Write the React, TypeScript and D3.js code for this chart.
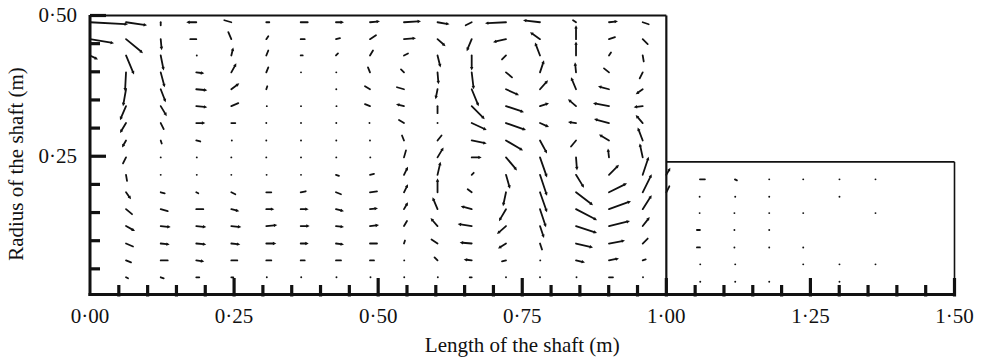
import React from 'react';
import * as d3 from 'd3';

// ---------- axes ----------
const xMajorTicks = [0, 0.25, 0.5, 0.75, 1.0, 1.25, 1.5];
const xMajorLabels = ['0·00', '0·25', '0·50', '0·75', '1·00', '1·25', '1·50'];
const yMajorTicks = [0.25, 0.5];
const yMajorLabels = ['0·25', '0·50'];
const xMinorTicks = [0.05, 0.1, 0.15, 0.2, 0.25, 0.3, 0.35, 0.4, 0.45, 0.5, 0.55, 0.6, 0.65, 0.7, 0.75, 0.8, 0.85, 0.9, 0.95, 1.0, 1.05, 1.1, 1.15, 1.2, 1.25, 1.3, 1.35, 1.4, 1.45, 1.5];
const yMinorTicks = [0.05, 0.1, 0.15, 0.2, 0.25, 0.3, 0.35, 0.4, 0.45, 0.5];
const xTitle = 'Length of the shaft (m)';
const yTitle = 'Radius of the shaft (m)';

// ---------- geometry of the shaft ----------
const shaftLength = 1.5;
const stepPosition = 1.0;
const innerRadius = 0.5;
const outerRadius = 0.24;

// ---------- left part grid (x = axial position, r = radius) ----------
const leftColumns = [0.0, 0.0625, 0.1227, 0.1844, 0.2452, 0.3059, 0.3656, 0.4268, 0.4858, 0.5448, 0.603, 0.6623, 0.7218, 0.7808, 0.8433, 0.9005, 0.959, 1.0];
const leftRows = [0.488, 0.458, 0.429, 0.399, 0.369, 0.339, 0.309, 0.278, 0.248, 0.217, 0.186, 0.156, 0.126, 0.095, 0.065, 0.035];

// axial (u) and radial (v) velocity components, one array per column, top row first
const uLeft = [
  [38, 24, 8, 0, 0, 0, 0, 0, 0, 0, 0, 0, 0, 0, 0, 0],
  [21, 17, 8, -1, -3, -6, -6, -4, -3, 1, 5, 6, 9, 7, 5, 2],
  [0, 1, 3, 4, 5, 6, 3, 1, 0, 0, 4, 7, 10, 9, 7, 3],
  [-10, -6, 1, 8, 11, 11, 9, 4, 1, 1, 2, 7, 10, 10, 8, 3],
  [-7, -3, 2, 5, 8, 7, 4, 1, 0, 0, 4, 8, 10, 9, 6, 2],
  [3, 2, 2, 2, 1, 1, 0, 0, 0, 0.6, 5, 8, 11, 10, 5, 1],
  [7, 4, 2, 0.6, 0, 0.6, 0.6, 0.6, 0.6, 0.6, 5, 8, 9, 8, 4, 1],
  [8, 4, 2, 0.6, 0.6, 1, 0.6, 0.6, 0.6, 3, 5, 8, 8, 8, 5, 1],
  [10, 6, 3, -2, -5, -5, -1, 0, 0.6, 4, 7, 8, 9, 7, 4, 1],
  [17, 12, 4, -3, -7, -8, -5, -2, 2, 4, 4, 4, 3, 1, 0.5, 0.5],
  [12, 8, 3, 1, -2, 0, 0, 4, 6, 3, 0, -5, -7, -6, -3, 0.6],
  [-6, -5, 0, 2, 7, 13, 15, 15, 10, 2, -4, -11, -14, -12, -8, -2],
  [-21, -13, -4, 6, 13, 18, 20, 17, 11, 4, -3, -7, -9, -8, -4, 0],
  [-17, -10, -5, 4, 8, 9, 9, 7, 7, 7, 7, 6, 4, 2, 0.5, 0],
  [-3, 0, 0, -1, -5, -8, -8, -5, 1, 8, 17, 21, 21, 17, 9, 1],
  [9, 6, 2, -5, -11, -16, -15, -10, -1, 10, 18, 22, 21, 16, 10, 4],
  [6, 5, 1, -3, -7, -9, -7, -5, -3, 6, 9, 9, 7, 5, 3, 0.6],
  [0, 0, 0, 0, 0, 0, 0, 0, 0, 4, 3, 0, 0, 0, 0, 0],
];
const vLeft = [
  [-2, -4, -4, 0, 0, 0, 0, 0, 0, 0, 0, 0, 0, 0, 0, 0],
  [-3, -14, -19, -19, -17, -14, -10, -7, -6, -6, -7, -5, -5, -3, -2, -1],
  [-3, -11, -15, -15, -13, -10, -6, -3, -1, -1, -1, -2, -1, -1, 0, -1],
  [0, 0, 0, -1, -1, -1, 0, -1, 0, 0, -1, 0, -1, -1, -1, 0],
  [2, 7, 8, 9, 6, 3, 0, 0, 1, -1, -2, -2, -1, -1, 0, 0],
  [0, 3, 5, 5, 3, 1, 0.6, 0.6, 0.6, 0, 0, 0, 1, 0, 0, 0],
  [0, 0, 0, 0, 0, 0, 0, 0, 0, 0, 1, 0, 0, 0, 0, 0],
  [0, 1, 2, 0, 0, -0.5, 0, 0, 0, -1, -2, -2, -1, -1, 0, 0],
  [1, 4, 5, 5, 3, 2, 0.5, 0.6, 0, 1, 1, 1, 1, 0, 0, 0],
  [1, 1, 2, 3, 2, 2, 3, 5, 7, 8, 8, 7, 5, 3, 0.5, 0],
  [-2, -7, -12, -12, -10, -7, -1, 5, 10, 13, 14, 12, 8, 4, 3, 0],
  [-3, -12, -15, -17, -17, -13, -7, -3, 0, 2, 3, 3, 2, 1, 1, 0],
  [-1, -3, -4, -5, -6, -6, -7, -10, -13, -14, -14, -12, -8, -5, -1, -0.6],
  [2, 7, 13, 12, 9, 3, -4, -13, -20, -21, -20, -18, -12, -6, -1, -0.6],
  [2, 14, 14, 10, 12, 7, 1, -6, -13, -13, -13, -11, -7, -4, -2, 0],
  [1, 2, 3, 4, 3, 3, 4, 6, 9, 10, 9, 8, 5, 3, 2, 0],
  [-2, -5, -6, -6, -5, -1, 8, 13, 14, 18, 18, 14, 9, 5, 1, 0],
  [0, 0, 0, 0, 0, 0, 0, 0, 0, 7, 6, 0, 0, 0, 0, 0],
];

// ---------- right part grid ----------
const rightColumns = [1.0583, 1.119, 1.178, 1.237, 1.2999, 1.3624];
const rightRows = [0.209, 0.178, 0.149, 0.119, 0.088, 0.058, 0.027];
const uRight = [
  [5, -0.6, -0.6, -3, -3, 0.6, 0.6],
  [2, 0.6, -1, -1, -1, 0.6, 0.6],
  [0.6, 0.6, 0.6, 0.6, 0.6, 0, 0.6],
  [0.6, 0, 0.6, 0, 0.6, 0.6, 0],
  [0.6, 0.6, 0, 0, 0, 0.6, 0.6],
  [0.6, 0, 0.6, 0, 0, 0.6, 0],
];
const vRight = [
  [0, 0, 0, 0, 0, 0, 0],
  [-1, 0, -1, -1, -1, 0, 0],
  [0, 0, 0, 0, 0, 0, 0],
  [0, 0, 0, 0, 0, 0, 0],
  [0, 0, 0, 0, 0, 0, 0],
  [0, 0, 0, 0, 0, 0, 0],
];

const W = 981;
const H = 361;
const INK = '#111';
const FONT = '"Liberation Serif", "Times New Roman", serif';
const VEC_SCALE = 1; // px per velocity unit

type Vec = { x: number; r: number; u: number; v: number };

function buildVectors(): Vec[] {
  const out: Vec[] = [];
  leftColumns.forEach((x, c) => {
    leftRows.forEach((r, k) => {
      out.push({ x, r, u: uLeft[c][k], v: vLeft[c][k] });
    });
  });
  rightColumns.forEach((x, c) => {
    rightRows.forEach((r, k) => {
      out.push({ x, r, u: uRight[c][k], v: vRight[c][k] });
    });
  });
  return out;
}

export default function App() {
  const xScale = d3.scaleLinear().domain([0, shaftLength]).range([90, 954.5]);
  const yScale = d3.scaleLinear().domain([0, innerRadius]).range([297, 15.5]);
  const axisY = yScale(0) - 2.5;
  const x0 = xScale(0);
  const xStep = xScale(stepPosition);
  const xEnd = xScale(shaftLength);
  const yTop = yScale(innerRadius);
  const yOuter = yScale(outerRadius);

  const vectors = buildVectors();
  const marks: JSX.Element[] = [];
  vectors.forEach((d, i) => {
    const len = Math.hypot(d.u, d.v) * VEC_SCALE;
    if (len === 0) return;
    const tx = xScale(d.x);
    const ty = yScale(d.r);
    if (len < 1.5) {
      marks.push(<circle key={i} cx={tx + d.u * VEC_SCALE * 0.5} cy={ty} r={0.95} fill={INK} />);
      return;
    }
    const hx = tx + d.u * VEC_SCALE;
    const hy = ty - d.v * VEC_SCALE;
    if (len < 8) {
      marks.push(<line key={i} x1={tx} y1={ty} x2={hx} y2={hy} stroke={INK} strokeWidth={1.8} strokeLinecap="round" />);
      return;
    }
    const ux = (hx - tx) / len;
    const uy = (hy - ty) / len;
    const hl = 3.4;
    const hw = 1.7;
    const bx = hx - ux * hl;
    const by = hy - uy * hl;
    const px = -uy;
    const py = ux;
    marks.push(
      <g key={i}>
        <line x1={tx} y1={ty} x2={bx + ux * 0.5} y2={by + uy * 0.5} stroke={INK} strokeWidth={1.8} strokeLinecap="round" />
        <polygon points={`${hx},${hy} ${bx + px * hw},${by + py * hw} ${bx - px * hw},${by - py * hw}`} fill={INK} />
      </g>
    );
  });

  return (
    <svg width={W} height={H} style={{ position: 'absolute', left: 0, top: 0, background: '#fff' }}>
      <rect x={0} y={0} width={W} height={H} fill="#fff" />
      {/* domain outline */}
      <line x1={x0} y1={yTop} x2={xStep} y2={yTop} stroke={INK} strokeWidth={1.8} />
      <line x1={xStep} y1={yTop} x2={xStep} y2={axisY} stroke={INK} strokeWidth={2.2} />
      <line x1={xStep} y1={yOuter} x2={xEnd} y2={yOuter} stroke={INK} strokeWidth={1.6} />
      <line x1={xEnd} y1={yOuter} x2={xEnd} y2={axisY} stroke={INK} strokeWidth={1.6} />
      {/* axes */}
      <line x1={x0} y1={yTop - 0.5} x2={x0} y2={axisY + 1.5} stroke={INK} strokeWidth={3} />
      <line x1={x0 - 1.5} y1={axisY} x2={xEnd + 1} y2={axisY} stroke={INK} strokeWidth={3.2} />
      {xMinorTicks.map((t) => {
        const major = xMajorTicks.some((m) => Math.abs(m - t) < 1e-6);
        return (
          <line key={'xt' + t} x1={xScale(t)} x2={xScale(t)} y1={axisY + 2} y2={axisY - (major ? 16.5 : 9.5)} stroke={INK} strokeWidth={3.2} />
        );
      })}
      {yMinorTicks.map((t) => {
        const major = yMajorTicks.some((m) => Math.abs(m - t) < 1e-6);
        return (
          <line key={'yt' + t} x1={x0} x2={x0 + (major ? 16 : 10)} y1={yScale(t)} y2={yScale(t)} stroke={INK} strokeWidth={3.2} />
        );
      })}
      {/* tick labels */}
      {xMajorTicks.map((t, i) => (
        <text key={'xl' + t} x={xScale(t)} y={323} textAnchor="middle" fontFamily={FONT} fontSize={21} fill={INK}>
          {xMajorLabels[i]}
        </text>
      ))}
      {yMajorTicks.map((t, i) => (
        <text key={'yl' + t} x={77} y={yScale(t) + 6.8} textAnchor="end" fontFamily={FONT} fontSize={21} fill={INK}>
          {yMajorLabels[i]}
        </text>
      ))}
      <text x={(x0 + xEnd) / 2} y={352} textAnchor="middle" fontFamily={FONT} fontSize={21} fill={INK}>
        {xTitle}
      </text>
      <text transform={`translate(23, ${164}) rotate(-90)`} textAnchor="middle" fontFamily={FONT} fontSize={21} fill={INK}>
        {yTitle}
      </text>
      {/* vectors */}
      {marks}
    </svg>
  );
}
